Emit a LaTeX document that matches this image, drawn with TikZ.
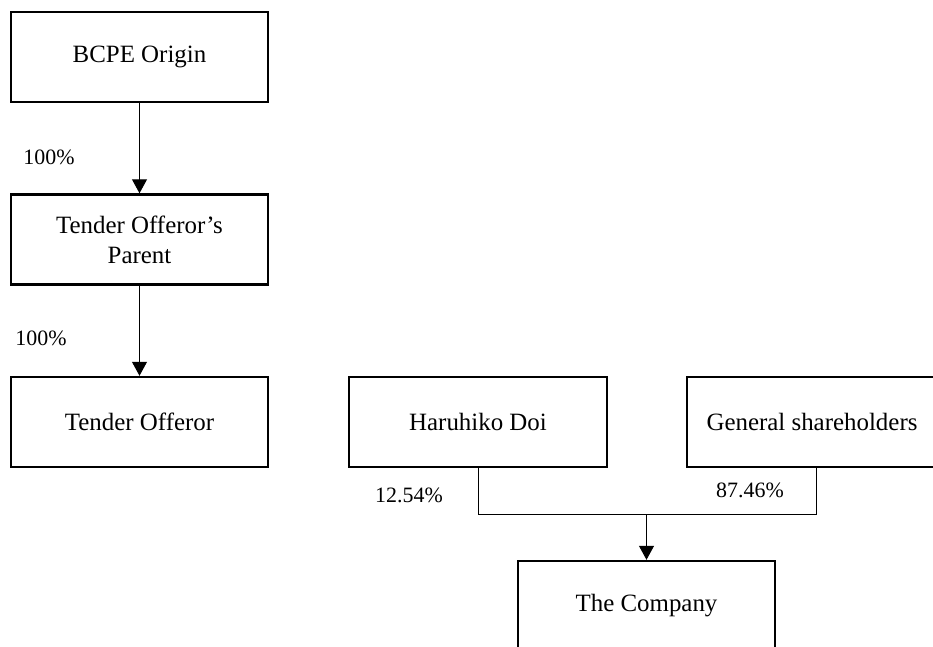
\documentclass[tikz,border=0pt]{standalone}
\usepackage{fontspec}
\setmainfont{Liberation Serif}
\usetikzlibrary{arrows.meta}
\begin{document}
\begin{tikzpicture}[x=1bp,y=-1bp,
  box/.style={draw,line width=2.4bp,minimum width=257bp,minimum height=90bp,inner sep=0pt,align=center,font=\fontsize{25}{30}\selectfont},
  pct/.style={inner sep=0pt,font=\fontsize{22}{26}\selectfont},
  arr/.style={line width=1bp,-{Triangle[length=14bp,width=15bp]}},
  conn/.style={line width=1bp}]
\useasboundingbox (0,0) rectangle (933,647);
\clip (0,0) rectangle (933,647);
\fill[white] (0,0) rectangle (933,647);
\node[box] (bcpe) at (139.5,57) {BCPE Origin};
\node[box] (parent) at (139.5,239.5) {Tender Offeror’s\\Parent};
\node[box] (tender) at (139.5,422) {Tender Offeror};
\node[box,minimum width=258bp] (doi) at (478,422) {Haruhiko Doi};
\node[box,minimum width=258bp] (gen) at (816,422) {\hspace*{-8bp}General shareholders};
\node[box] (comp) at (646.5,606) {The Company};
\coordinate (j) at (646.5,514);
\draw[arr] (bcpe.south) -- (parent.north);
\draw[arr] (parent.south) -- (tender.north);
\draw[conn] (doi.south) |- (gen.south |- j) -- (gen.south);
\draw[arr] (j) -- (comp.north);
\node[pct] (p1) at (49,157) {100\%};
\node[pct] (p2) at (41,338) {100\%};
\node[pct] (p3) at (409,495) {12.54\%};
\node[pct] (p4) at (750,490) {87.46\%};
\end{tikzpicture}
\end{document}
